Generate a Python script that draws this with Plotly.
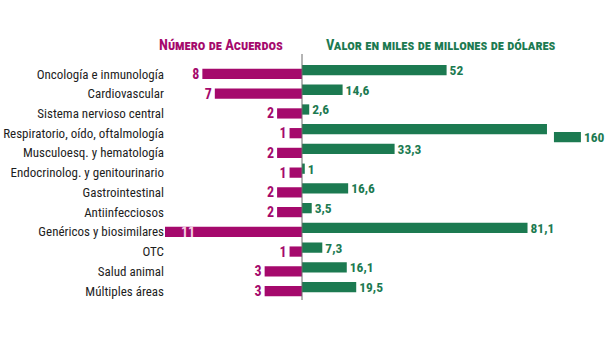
import plotly.graph_objects as go

categories = [
    "Oncología e inmunología",
    "Cardiovascular",
    "Sistema nervioso central",
    "Respiratorio, oído, oftalmología",
    "Musculoesq. y hematología",
    "Endocrinolog. y genitourinario",
    "Gastrointestinal",
    "Antiinfecciosos",
    "Genéricos y biosimilares",
    "OTC",
    "Salud animal",
    "Múltiples áreas",
]
deals = [8, 7, 2, 1, 2, 1, 2, 2, 11, 1, 3, 3]
value_bn = [52, 14.6, 2.6, 160, 33.3, 1, 16.6, 3.5, 81.1, 7.3, 16.1, 19.5]
value_labels = ["52", "14,6", "2,6", "160", "33,3", "1", "16,6", "3,5", "81,1", "7,3", "16,1", "19,5"]

header_left = "Número de Acuerdos"
header_right = "Valor en miles de millones de dólares"

MAGENTA = "#A5096C"
GREEN = "#1C7A51"
TEXT = "#1e1e1e"
FONT = "Roboto Condensed, Liberation Sans, sans-serif"

W, H = 614, 343
CENTER_PX = 302
LEFT_START_PX = 165
ROW_TOP_PX, ROW_BOTTOM_PX = 64.1, 300.9

# axis break settings for the right panel (values beyond the cap are drawn broken)
RIGHT_MAX = 112.2
BREAK_AT = 88.1
RESUME_AT = 90.6
BROKEN_END = 100.3

NB = "\u00a0"

fig = go.Figure()

fig.add_trace(go.Bar(
    y=categories, x=deals, orientation="h",
    marker=dict(color=MAGENTA, line=dict(width=0)),
    width=0.52,
    text=[(NB * 4 + str(d)) if d >= 10 else str(d) for d in deals],
    textposition=["inside" if d >= 10 else "outside" for d in deals],
    insidetextanchor="end",
    constraintext="none",
    insidetextfont=dict(family=FONT, size=14, color="#F4CDE2", weight="bold"),
    outsidetextfont=dict(family=FONT, size=14, color=MAGENTA, weight="bold"),
    cliponaxis=False,
    xaxis="x", yaxis="y",
    hoverinfo="skip", showlegend=False,
))

main_x = [min(v, BREAK_AT) if v > RIGHT_MAX else v for v in value_bn]
main_text = ["" if v > RIGHT_MAX else lab for v, lab in zip(value_bn, value_labels)]
fig.add_trace(go.Bar(
    y=categories, x=main_x, orientation="h",
    marker=dict(color=GREEN, line=dict(width=0)),
    width=0.52,
    text=main_text, textposition="outside",
    constraintext="none",
    textfont=dict(family=FONT, size=13.5, color=GREEN, weight="bold"),
    cliponaxis=False,
    xaxis="x2", yaxis="y2",
    hoverinfo="skip", showlegend=False,
))

broken_cats = [c for c, v in zip(categories, value_bn) if v > RIGHT_MAX]
broken_labels = [lab for v, lab in zip(value_bn, value_labels) if v > RIGHT_MAX]
fig.add_trace(go.Bar(
    y=broken_cats, x=[BROKEN_END - RESUME_AT] * len(broken_cats), base=[RESUME_AT] * len(broken_cats),
    orientation="h",
    marker=dict(color=GREEN, line=dict(width=0)),
    width=0.52,
    text=broken_labels, textposition="outside",
    constraintext="none",
    textfont=dict(family=FONT, size=13.5, color=GREEN, weight="bold"),
    cliponaxis=False,
    xaxis="x2", yaxis="y2",
    hoverinfo="skip", showlegend=False,
))

ydom = [1 - ROW_BOTTOM_PX / H, 1 - ROW_TOP_PX / H]
left_dom = [LEFT_START_PX / W, CENTER_PX / W]
right_dom = [CENTER_PX / W, 1.0]

fig.update_layout(
    width=W, height=H,
    margin=dict(l=0, r=0, t=0, b=0),
    paper_bgcolor="white", plot_bgcolor="rgba(0,0,0,0)",
    font=dict(family=FONT, color=TEXT),
    xaxis=dict(domain=left_dom, range=[11, 0], visible=False, fixedrange=True, automargin=False),
    xaxis2=dict(domain=right_dom, range=[0, RIGHT_MAX], visible=False, fixedrange=True, automargin=False),
    yaxis=dict(domain=ydom, anchor="x", categoryorder="array", categoryarray=categories,
               autorange="reversed", showgrid=False, zeroline=False, showline=False,
               ticks="", ticklabelstandoff=0, automargin=False,
               tickfont=dict(family=FONT, size=13, color=TEXT)),
    yaxis2=dict(domain=ydom, anchor="x2", matches="y", visible=False, automargin=False),
    shapes=[dict(type="line", xref="paper", yref="paper",
                 x0=CENTER_PX / W, x1=CENTER_PX / W,
                 y0=1 - 300 / H, y1=1 - 54 / H,
                 line=dict(color="#6b6b6b", width=1), layer="above")],
    annotations=[
        dict(text=header_left, xref="paper", yref="paper", x=221 / W, y=1 - 46 / H,
             xanchor="center", yanchor="middle", showarrow=False,
             font=dict(family=FONT, size=14.5, color=MAGENTA, weight="bold", variant="small-caps")),
        dict(text=header_right, xref="paper", yref="paper", x=324 / W, y=1 - 46 / H,
             xanchor="left", yanchor="middle", showarrow=False,
             font=dict(family=FONT, size=14.5, color=GREEN, weight="bold", variant="small-caps")),
    ],
)

fig.write_html("out.html")
